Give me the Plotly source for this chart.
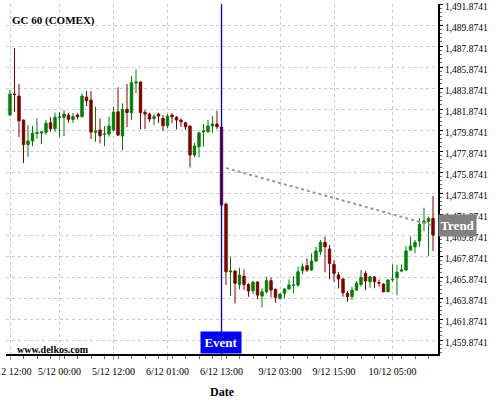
import plotly.graph_objects as go

# ---- data ----
idx = list(range(95))
opens = [1481.30, 1483.30, 1483.11, 1480.82, 1478.49, 1478.82, 1479.54, 1479.58, 1479.65, 1480.56,
         1479.99, 1481.06, 1481.08, 1481.30, 1480.87, 1481.30, 1481.14, 1483.01, 1482.73, 1479.65,
         1479.87, 1479.46, 1479.49, 1479.87, 1481.61, 1479.30, 1481.84, 1481.52, 1484.35, 1484.44,
         1481.55, 1481.39, 1480.98, 1481.39, 1480.98, 1480.28, 1481.30, 1481.08, 1480.82, 1480.56,
         1480.25, 1477.49, 1478.28, 1479.68, 1479.71, 1480.25, 1480.44, 1480.15, 1472.82, 1466.35,
         1466.44, 1465.17, 1465.96, 1465.17, 1464.56, 1465.39, 1464.06, 1464.47, 1465.52, 1464.70,
         1463.84, 1464.32, 1464.73, 1465.06, 1465.11, 1466.47, 1466.95, 1466.54, 1467.39, 1468.28,
         1469.17, 1468.54, 1467.08, 1466.06, 1465.68, 1464.32, 1463.99, 1464.63, 1465.17, 1466.22,
         1465.42, 1465.87, 1465.35, 1465.20, 1464.47, 1465.61, 1465.80, 1466.44, 1466.54, 1468.44,
         1468.75, 1469.30, 1470.98, 1471.14, 1471.46]
highs = [1483.68, 1487.68, 1484.25, 1480.87, 1480.35, 1480.25, 1481.01, 1479.77, 1480.82, 1481.08,
         1481.52, 1481.58, 1481.77, 1481.49, 1481.49, 1481.46, 1483.36, 1483.58, 1483.58, 1482.09,
         1480.98, 1480.25, 1481.14, 1482.06, 1483.94, 1482.41, 1484.25, 1485.01, 1485.65, 1484.49,
         1481.77, 1481.52, 1481.39, 1481.52, 1481.30, 1481.39, 1481.46, 1481.20, 1480.98, 1480.66,
         1480.30, 1478.66, 1479.71, 1480.44, 1480.82, 1481.20, 1481.71, 1480.20, 1472.95, 1467.80,
         1466.54, 1466.75, 1466.60, 1465.27, 1465.49, 1465.49, 1464.79, 1465.90, 1465.84, 1464.77,
         1464.35, 1464.79, 1465.65, 1465.96, 1466.85, 1467.17, 1467.65, 1468.13, 1468.75, 1469.39,
         1469.71, 1468.92, 1467.49, 1466.37, 1465.75, 1464.54, 1464.94, 1465.49, 1466.54, 1466.44,
         1465.99, 1465.96, 1465.65, 1465.27, 1465.68, 1467.08, 1467.01, 1467.08, 1468.82, 1469.71,
         1469.39, 1471.46, 1472.47, 1471.61, 1473.61]
lows = [1481.20, 1481.58, 1479.20, 1476.73, 1477.30, 1478.35, 1479.01, 1478.54, 1479.39, 1479.71,
        1479.71, 1479.20, 1479.30, 1480.56, 1480.54, 1480.89, 1481.08, 1482.15, 1479.01, 1478.73,
        1478.60, 1478.35, 1479.23, 1479.77, 1479.30, 1477.96, 1480.15, 1480.82, 1483.39, 1479.96,
        1479.96, 1480.63, 1480.35, 1480.56, 1479.80, 1480.03, 1480.51, 1479.94, 1480.18, 1479.87,
        1476.32, 1477.27, 1477.27, 1478.28, 1479.61, 1479.61, 1479.94, 1472.68, 1465.11, 1464.06,
        1463.36, 1464.70, 1464.63, 1463.99, 1464.25, 1463.75, 1462.98, 1464.32, 1463.94, 1463.42,
        1463.75, 1463.84, 1464.70, 1464.32, 1464.94, 1466.13, 1466.37, 1466.44, 1467.33, 1467.96,
        1466.32, 1465.68, 1465.42, 1464.79, 1463.99, 1463.52, 1463.68, 1464.54, 1464.94, 1464.63,
        1464.82, 1464.79, 1464.94, 1464.41, 1464.41, 1465.42, 1464.15, 1466.32, 1466.44, 1468.35,
        1468.13, 1468.75, 1470.25, 1467.90, 1468.35]
closes = [1483.30, 1483.25, 1480.75, 1478.49, 1478.82, 1479.56, 1479.63, 1479.68, 1480.51, 1479.99,
          1481.08, 1481.11, 1481.39, 1480.89, 1481.17, 1481.14, 1483.11, 1482.66, 1479.68, 1479.77,
          1479.33, 1479.49, 1480.25, 1481.58, 1479.39, 1481.84, 1481.54, 1484.37, 1484.44, 1481.52,
          1481.39, 1480.92, 1481.14, 1481.20, 1480.28, 1481.20, 1481.14, 1480.82, 1480.66, 1480.18,
          1477.49, 1478.35, 1479.61, 1479.77, 1480.25, 1480.44, 1480.18, 1472.73, 1466.37, 1466.44,
          1465.27, 1466.06, 1465.17, 1464.54, 1465.39, 1464.15, 1464.47, 1465.52, 1464.63, 1463.94,
          1464.25, 1464.73, 1465.11, 1465.11, 1466.37, 1466.85, 1466.54, 1467.39, 1468.35, 1469.17,
          1468.75, 1467.17, 1466.22, 1465.68, 1464.37, 1463.99, 1464.63, 1465.27, 1465.84, 1465.49,
          1465.90, 1465.42, 1465.30, 1464.47, 1465.58, 1465.65, 1466.32, 1466.54, 1468.35, 1468.82,
          1469.17, 1470.89, 1471.20, 1471.46, 1469.87]

x_tick_idx = [0, 11, 23, 35, 47, 60, 72, 85]
x_tick_labels = ["4/12 12:00", "5/12 00:00", "5/12 12:00", "6/12 01:00", "6/12 13:00",
                 "9/12 03:00", "9/12 15:00", "10/12 05:00"]
y_tick_vals = [1459.8741 + 2 * k for k in range(17)]
y_tick_labels = ["{:,.4f}".format(v) for v in y_tick_vals]
y_range = [1458.5408, 1491.8741]

event_idx = 47
trend_x = [48, 94]
trend_y = [1476.25, 1470.77]

title_text = "GC 60 (COMEX)"
site_text = "www.delkos.com"

SERIF = "Liberation Serif, Times New Roman, DejaVu Serif, serif"
GREEN = "#008000"
RED = "#800000"

fig = go.Figure()
fig.add_trace(go.Scatter(x=trend_x, y=trend_y, mode="lines",
                         line=dict(color="#999999", width=2, dash="dot"),
                         hoverinfo="skip", showlegend=False))
fig.add_trace(go.Candlestick(
    x=idx, open=opens, high=highs, low=lows, close=closes,
    increasing=dict(line=dict(color=GREEN, width=1), fillcolor=GREEN),
    decreasing=dict(line=dict(color=RED, width=1), fillcolor=RED),
    whiskerwidth=0, showlegend=False))

fig.add_shape(type="line", x0=event_idx, x1=event_idx, xref="x", y0=0, y1=1, yref="paper",
              line=dict(color="#0000dd", width=1.3), layer="above")

fig.add_annotation(x=event_idx, xref="x", y=0, yref="paper", yanchor="bottom", xanchor="center",
                   text="Event", showarrow=False, bgcolor="#0000ff", xshift=-1,
                   width=40, height=21, borderpad=0,
                   font=dict(family=SERIF, size=13, color="white", weight="bold"))
fig.add_annotation(x=1, xref="paper", xanchor="left", y=trend_y[-1], yref="y", yanchor="middle",
                   text="Trend", showarrow=False, bgcolor="#808080",
                   width=37, height=21, borderpad=0,
                   font=dict(family=SERIF, size=13, color="white", weight="bold"))
fig.add_annotation(x=0, xref="paper", xanchor="left", xshift=4, y=1, yref="paper",
                   yanchor="middle", yshift=-16, text=title_text, showarrow=False,
                   font=dict(family=SERIF, size=11, color="black", weight="bold"))
fig.add_annotation(x=0, xref="paper", xanchor="left", xshift=9, y=0, yref="paper",
                   yanchor="middle", yshift=5, text=site_text, showarrow=False,
                   font=dict(family=SERIF, size=10, color="black", weight="bold"))

fig.update_layout(
    width=500, height=400,
    margin=dict(l=6, r=62, t=4, b=46, autoexpand=False),
    paper_bgcolor="white", plot_bgcolor="white",
    boxgap=0.25,
    showlegend=False,
    font=dict(family=SERIF, size=10, color="black"),
    xaxis=dict(
        range=[-0.89, 95.11], rangeslider=dict(visible=False),
        automargin=False,
        tickmode="array", tickvals=x_tick_idx, ticktext=x_tick_labels,
        ticks="outside", ticklen=4, tickcolor="#999999",
        ticklabeloverflow="allow", ticklabelstandoff=3,
        showgrid=True, gridcolor="#cccccc", griddash="3px,3px", gridwidth=1,
        showline=True, linecolor="black", linewidth=1.5,
        zeroline=False,
        minor=dict(ticks="outside", ticklen=3, tickcolor="#666666", tick0=0, dtick=3, showgrid=False),
        title=dict(text="Date", font=dict(family=SERIF, size=12, weight="bold"), standoff=12),
        tickfont=dict(family=SERIF, size=10),
    ),
    yaxis=dict(
        side="right", range=y_range,
        automargin=False,
        tickmode="array", tickvals=y_tick_vals, ticktext=y_tick_labels,
        ticks="outside", ticklen=3, tickcolor="black",
        ticklabeloverflow="allow",
        showgrid=True, gridcolor="#cccccc", griddash="3px,3px", gridwidth=1,
        showline=True, linecolor="black", linewidth=2,
        zeroline=False, ticklabelshift=3,
        minor=dict(ticks="outside", ticklen=2, tickcolor="#666666", tick0=1459.8741, dtick=0.4, showgrid=False),
        tickfont=dict(family=SERIF, size=9.5),
    ),
)

fig.write_html("out.html", config={"displayModeBar": False},
               post_script="document.body.style.margin='0';")
